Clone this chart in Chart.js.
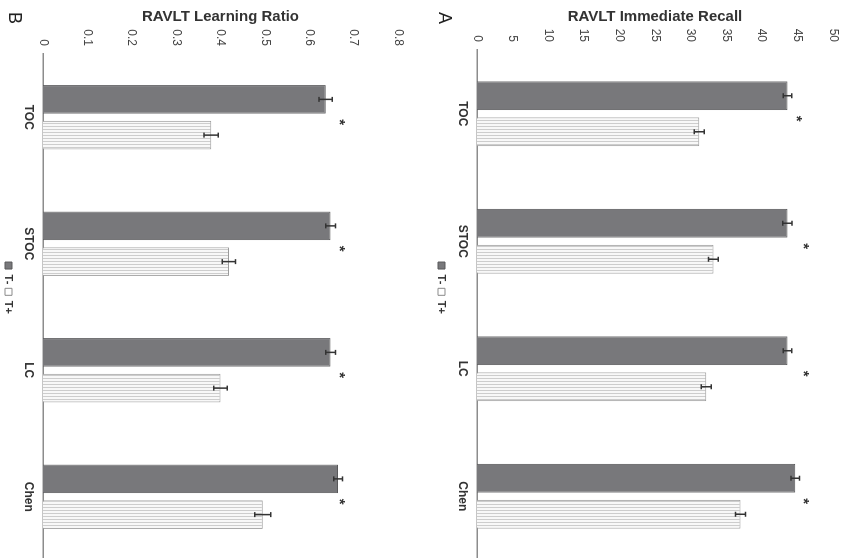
<!DOCTYPE html>
<html>
<head>
<meta charset="utf-8">
<script src="https://cdn.jsdelivr.net/npm/chart.js@4.4.1/dist/chart.umd.min.js"></script>
<style>
  html, body { margin:0; padding:0; width:843px; height:558px; overflow:hidden; background:#fff; }
  #rot { position:absolute; left:0; top:0; width:562px; height:860px; transform-origin:0 0; transform:translate(843px,0) rotate(90deg); }
  canvas { position:absolute; left:0; }
  .panel { position:absolute; font-family:"Liberation Sans", Arial, sans-serif; font-size:18px; color:#222; transform:translate(-50%,-50%); line-height:1; }
</style>
</head>
<body>
<div id="rot">
  <canvas id="cA" width="562" height="421" style="top:0px"></canvas>
  <canvas id="cB" width="562" height="433" style="top:421px"></canvas>
  <div class="panel" style="left:18px;top:398px">A</div>
  <div class="panel" style="left:18px;top:828px">B</div>
</div>
<script>
// ---- data ----
const categories = ['TOC', 'STOC', 'LC', 'Chen'];
const seriesNames = ['T-', 'T+'];

const recallTminus = [43.6, 43.6, 43.6, 44.7];
const recallTplus = [31.2, 33.2, 32.2, 37.0];
const recallTminusErr = [0.6, 0.65, 0.6, 0.6];
const recallTplusErr = [0.7, 0.7, 0.7, 0.7];
const recallStar = [45.5, 46.4, 46.4, 46.4];
const recallTicks = ['0', '5', '10', '15', '20', '25', '30', '35', '40', '45', '50'];

const ratioTminus = [0.637, 0.648, 0.648, 0.665];
const ratioTplus = [0.379, 0.419, 0.400, 0.495];
const ratioTminusErr = [0.015, 0.011, 0.011, 0.010];
const ratioTplusErr = [0.016, 0.015, 0.015, 0.018];
const ratioStar = [0.678, 0.678, 0.678, 0.678];
const ratioTicks = ['0', '0.1', '0.2', '0.3', '0.4', '0.5', '0.6', '0.7', '0.8'];

// ---- styles ----
const FONT = '"Liberation Sans", Arial, sans-serif';
function stripePattern() {
  const c = document.createElement('canvas');
  c.width = 3; c.height = 3;
  const g = c.getContext('2d');
  g.fillStyle = '#f8f8f8'; g.fillRect(0, 0, 3, 3);
  g.fillStyle = '#cdcdcd'; g.fillRect(0, 0, 1, 3);
  return g.createPattern(c, 'repeat');
}

const extrasPlugin = {
  id: 'extras',
  afterDatasetsDraw(chart, args, opts) {
    const ctx = chart.ctx;
    const ys = chart.scales.y, xs = chart.scales.x;
    ctx.save();
    ctx.strokeStyle = '#333';
    ctx.lineWidth = 1.5;
    opts.errors.forEach((errArr, di) => {
      const meta = chart.getDatasetMeta(di);
      const vals = chart.data.datasets[di].data;
      meta.data.forEach((bar, j) => {
        const x = bar.x;
        const y1 = ys.getPixelForValue(vals[j] + errArr[j]);
        const y2 = ys.getPixelForValue(vals[j] - errArr[j]);
        ctx.beginPath();
        ctx.moveTo(x, y1); ctx.lineTo(x, y2);
        ctx.moveTo(x - 2.5, y1); ctx.lineTo(x + 2.5, y1);
        ctx.moveTo(x - 2.5, y2); ctx.lineTo(x + 2.5, y2);
        ctx.stroke();
      });
    });
    ctx.fillStyle = '#333';
    ctx.font = 'bold 15px ' + FONT;
    ctx.textAlign = 'center';
    ctx.textBaseline = 'alphabetic';
    opts.stars.forEach((v, j) => {
      const x = xs.getPixelForValue(j) + 5;
      const y = ys.getPixelForValue(v);
      ctx.fillText('*', x, y + 0.57 * 15);
    });
    ctx.restore();
  }
};

function makeChart(id, title, a, b, aErr, bErr, stars, tickLabels, max, step, yWidth, xHeight, padTop, padBottom) {
  const ctx = document.getElementById(id).getContext('2d');
  return new Chart(ctx, {
    type: 'bar',
    data: {
      labels: categories,
      datasets: [
        { label: seriesNames[0], data: a, backgroundColor: '#78787b', borderColor: '#58585a', borderWidth: 1, borderSkipped: 'start' },
        { label: seriesNames[1], data: b, backgroundColor: stripePattern(), borderColor: '#9a9a9a', borderWidth: 1, borderSkipped: 'start' }
      ]
    },
    options: {
      responsive: false,
      animation: false,
      devicePixelRatio: 1,
      layout: { padding: { top: padTop, left: 16, right: 2, bottom: padBottom } },
      datasets: { bar: { categoryPercentage: 0.565, barPercentage: 0.8 } },
      scales: {
        x: {
          grid: { display: false, drawTicks: false },
          border: { display: true, color: '#8c8c8c', width: 1.5 },
          ticks: { color: '#333', font: { family: FONT, size: 12, weight: 'bold' }, padding: 7, maxRotation: 0, minRotation: 0 },
          afterFit(s) { s.height = xHeight; }
        },
        y: {
          min: 0, max: max,
          grid: { display: false, drawTicks: false },
          border: { display: false },
          ticks: { stepSize: step, color: '#444', font: { family: FONT, size: 12 }, padding: 8,
                   callback: (v, i) => tickLabels[i] },
          title: { display: true, text: title, color: '#333', font: { family: FONT, size: 15, weight: 'bold' }, padding: { top: -8.5, bottom: 0 } },
          afterFit(s) { s.width = yWidth; s.paddingTop = 0; s.paddingBottom = 0; }
        }
      },
      plugins: {
        title: { display: false },
        tooltip: { enabled: false },
        legend: {
          position: 'bottom',
          labels: {
            color: '#333',
            font: { family: FONT, size: 11, weight: 'bold' },
            boxWidth: 7, boxHeight: 7, padding: 4,
            generateLabels(chart) {
              const items = Chart.defaults.plugins.legend.labels.generateLabels(chart);
              items[0].fillStyle = '#78787b'; items[0].strokeStyle = '#58585a'; items[0].lineWidth = 1;
              items[1].fillStyle = '#ffffff'; items[1].strokeStyle = '#8a8a8a'; items[1].lineWidth = 1;
              return items;
            }
          }
        },
        extras: { errors: [aErr, bErr], stars: stars }
      }
    },
    plugins: [extrasPlugin]
  });
}

makeChart('cA', 'RAVLT Immediate Recall', recallTminus, recallTplus, recallTminusErr, recallTplusErr, recallStar, recallTicks, 50, 5, 34, 26, 10, 4);
makeChart('cB', 'RAVLT Learning Ratio', ratioTminus, ratioTplus, ratioTminusErr, ratioTplusErr, ratioStar, ratioTicks, 0.8, 0.1, 38, 25, 24, 4);
</script>
</body>
</html>
